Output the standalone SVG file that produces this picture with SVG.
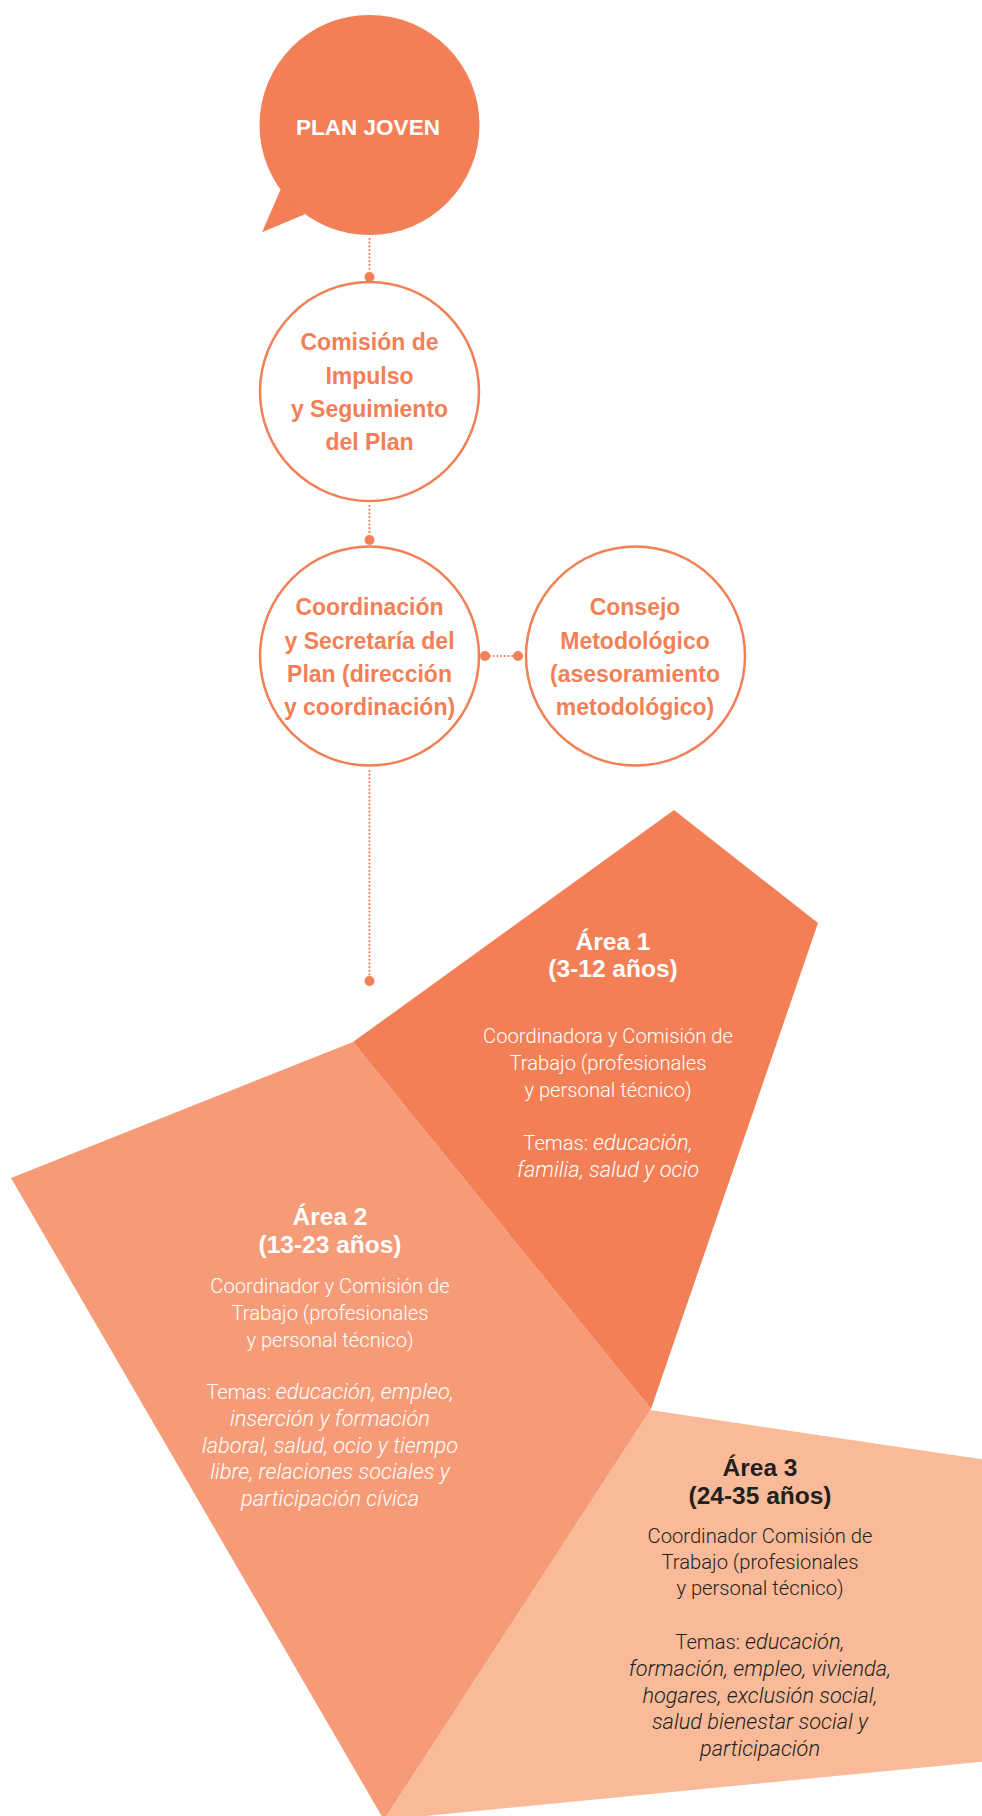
<svg xmlns="http://www.w3.org/2000/svg" width="982" height="1816" viewBox="0 0 982 1816">
  <style>
    .ring { fill: #ffffff; stroke: #F37F56; stroke-width: 2.5; }
    .ctext { font-family: "Liberation Sans", Arial, sans-serif; font-weight: bold; font-size: 23px; fill: #F37F56; text-anchor: middle; }
    .title { font-family: "Liberation Sans", Arial, sans-serif; font-weight: bold; font-size: 24.5px; text-anchor: middle; }
    .body { font-family: Roboto, "Liberation Sans", sans-serif; font-weight: 300; font-size: 20.2px; text-anchor: middle; }
    .light { fill: #ffffff; }
    .dark { fill: #231F20; }
    .it { font-style: italic; font-size: 21.8px; }
    .dotline { fill: none; stroke: #F37F56; stroke-width: 2.2; stroke-linecap: round; stroke-dasharray: 0 3.7; }
    .dot { fill: #F37F56; }
  </style>

  <!-- Area polygons -->
  <g id="area2">
    <polygon points="353,1042 651,1409 384,1820 11,1178" fill="#F69B77"/>
    <text class="title light" x="330" y="1225">Área 2</text>
    <text class="title light" x="330" y="1253">(13-23 años)</text>
  </g>
  <g id="area1">
    <polygon points="674,810 818,923 651,1409 353,1042" fill="#F37F56"/>
    <text class="title light" x="613" y="950">Área 1</text>
    <text class="title light" x="613" y="977">(3-12 años)</text>
    <text class="body light" x="608" y="1043">Coordinadora y Comisión de</text>
    <text class="body light" x="608" y="1070">Trabajo (profesionales</text>
    <text class="body light" x="608" y="1097">y personal técnico)</text>
    <text class="body light" x="608" y="1150">Temas: <tspan class="it">educación,</tspan></text>
    <text class="body light it" x="608" y="1177">familia, salud y ocio</text>
  </g>
  <g id="area2-text">
    <text class="body light" x="330" y="1293">Coordinador y Comisión de</text>
    <text class="body light" x="330" y="1320">Trabajo (profesionales</text>
    <text class="body light" x="330" y="1347">y personal técnico)</text>
    <text class="body light" x="330" y="1399">Temas: <tspan class="it">educación, empleo,</tspan></text>
    <text class="body light it" x="330" y="1426">inserción y formación</text>
    <text class="body light it" x="330" y="1453">laboral, salud, ocio y tiempo</text>
    <text class="body light it" x="330" y="1479">libre, relaciones sociales y</text>
    <text class="body light it" x="330" y="1506">participación cívica</text>
  </g>
  <g id="area3">
    <polygon points="650,1410 1000,1462 1000,1760 384,1820" fill="#F9BA9A"/>
    <text class="title dark" x="760" y="1476">Área 3</text>
    <text class="title dark" x="760" y="1504">(24-35 años)</text>
    <text class="body dark" x="760" y="1543">Coordinador Comisión de</text>
    <text class="body dark" x="760" y="1569">Trabajo (profesionales</text>
    <text class="body dark" x="760" y="1595">y personal técnico)</text>
    <text class="body dark" x="760" y="1649">Temas: <tspan class="it">educación,</tspan></text>
    <text class="body dark it" x="760" y="1676">formación, empleo, vivienda,</text>
    <text class="body dark it" x="760" y="1703">hogares, exclusión social,</text>
    <text class="body dark it" x="760" y="1729">salud bienestar social y</text>
    <text class="body dark it" x="760" y="1756">participación</text>
  </g>

  <!-- Connectors -->
  <g id="connectors">
    <line class="dotline" x1="369.5" y1="239" x2="369.5" y2="272"/>
    <circle class="dot" cx="369.5" cy="277" r="5"/>
    <line class="dotline" x1="369.5" y1="506" x2="369.5" y2="535"/>
    <circle class="dot" cx="369.5" cy="540" r="5"/>
    <circle class="dot" cx="485" cy="656" r="5"/>
    <line class="dotline" x1="490" y1="656" x2="513" y2="656"/>
    <circle class="dot" cx="518" cy="656" r="5"/>
    <line class="dotline" x1="369.5" y1="771" x2="369.5" y2="976"/>
    <circle class="dot" cx="369.5" cy="981" r="5"/>
  </g>

  <!-- Nodes -->
  <g id="plan-joven">
    <path d="M 280.7 189.3 L 262 232.3 L 305 214.3 Z" fill="#F37F56"/>
    <circle cx="369.5" cy="125" r="110" fill="#F37F56"/>
    <text x="368" y="135" font-family="Liberation Sans, Arial, sans-serif" font-weight="bold" font-size="22.5" fill="#ffffff" text-anchor="middle">PLAN JOVEN</text>
  </g>
  <g id="comision">
    <circle class="ring" cx="369.5" cy="391.5" r="109.5"/>
    <text class="ctext" x="369.5" y="350">Comisión de</text>
    <text class="ctext" x="369.5" y="383.5">Impulso</text>
    <text class="ctext" x="369.5" y="417">y Seguimiento</text>
    <text class="ctext" x="369.5" y="450">del Plan</text>
  </g>
  <g id="coordinacion">
    <circle class="ring" cx="369.5" cy="656" r="109.5"/>
    <text class="ctext" x="369.5" y="615">Coordinación</text>
    <text class="ctext" x="369.5" y="648.5">y Secretaría del</text>
    <text class="ctext" x="369.5" y="682">Plan (dirección</text>
    <text class="ctext" x="369.5" y="715">y coordinación)</text>
  </g>
  <g id="consejo">
    <circle class="ring" cx="635.5" cy="656" r="109.5"/>
    <text class="ctext" x="635" y="615">Consejo</text>
    <text class="ctext" x="635" y="648.5">Metodológico</text>
    <text class="ctext" x="635" y="682">(asesoramiento</text>
    <text class="ctext" x="635" y="715">metodológico)</text>
  </g>
</svg>
